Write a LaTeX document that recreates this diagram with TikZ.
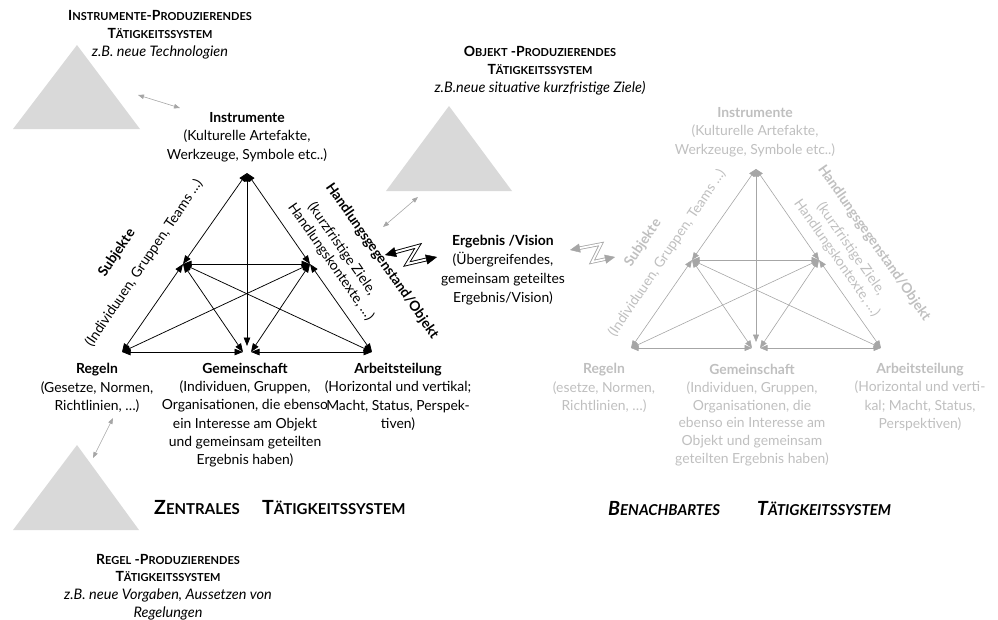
\documentclass[tikz,border=0pt]{standalone}
\usepackage{fontspec}
\setmainfont{Lato}
\usetikzlibrary{arrows.meta,calc}
\definecolor{trifill}{HTML}{D9D9D9}
\definecolor{gline}{HTML}{A6A6A6}
\definecolor{gtext}{HTML}{BFBFBF}
\newcommand\SCa[2]{{\fontsize{14}{18}\selectfont #1}{\fontsize{11}{18}\selectfont #2}}
\newcommand\SCb[2]{{\fontsize{19.5}{22}\selectfont #1}{\fontsize{15}{22}\selectfont #2}}
\newcommand\itl[1]{{\mdseries\itshape\fontsize{14.5}{18}\selectfont #1}}
\begin{document}
\begin{tikzpicture}[x=1pt,y=-1pt,
  lab/.style={font=\fontsize{13.9}{18.5}\selectfont, align=center, inner sep=0pt},
  glab/.style={lab, text=gtext},
  head/.style={font=\fontsize{14}{18}\selectfont\bfseries, align=center, inner sep=0pt},
  dbl/.style={<->, >={Triangle[length=8.5pt,width=6.5pt]}, line width=0.75pt},
  gdbl/.style={<->, >={Triangle[length=7.5pt,width=6pt]}, line width=0.6pt, draw=gline},
  thin/.style={<->, >={Triangle[length=6pt,width=4.5pt]}, line width=0.6pt, draw=gline},
  systri/.style={fill=trifill, draw=none}]
\useasboundingbox (0,0) rectangle (998,619);

% ---------- gray triangles of neighbouring systems ----------
\fill[systri] (77,45) -- (13,129) -- (140,129) -- cycle;
\fill[systri] (449,106) -- (386,191) -- (512,191) -- cycle;
\fill[systri] (77,445) -- (13,530) -- (139,530) -- cycle;

\node[head] (hInstr) at (160,35) {\SCa{I}{NSTRUMENTE}-\SCa{P}{RODUZIERENDES}\\\SCa{T}{ÄTIGKEITSSYSTEM}\\\itl{z.B. neue Technologien}};
\node[head] (hObj) at (540,71) {\SCa{O}{BJEKT} -\SCa{P}{RODUZIERENDES}\\\SCa{T}{ÄTIGKEITSSYSTEM}\\\itl{z.B.neue situative kurzfristige Ziele)}};
\node[head, font=\fontsize{14}{17.7}\selectfont\bfseries] (hReg) at (168,587) {\SCa{R}{EGEL} -\SCa{P}{RODUZIERENDES}\\\SCa{T}{ÄTIGKEITSSYSTEM}\\\itl{z.B. neue Vorgaben, Aussetzen von}\\\itl{Regelungen}};

\coordinate (ga1) at (138,95);  \coordinate (ga2) at (180,108);
\coordinate (gb1) at (383,227); \coordinate (gb2) at (418,197);
\coordinate (gc1) at (93,458);  \coordinate (gc2) at (113,418);
\draw[thin] (ga1) -- (ga2);
\draw[thin] (gb1) -- (gb2);
\draw[thin] (gc1) -- (gc2);

% ---------- central system ----------
\coordinate (I) at (247,173);
\coordinate (S) at (183,264);
\coordinate (O) at (310,264);
\coordinate (R) at (122,352);
\coordinate (Gl) at (243,352);
\coordinate (Gr) at (251,352);
\coordinate (Gt) at (247,346);
\coordinate (A) at (372,352);
\foreach \a/\b in {I/S, I/O, I/Gt, S/O, S/R, S/Gl, S/A, O/R, O/Gr, O/A, R/Gl, Gr/A}
  \draw[dbl] (\a) -- (\b);

\node[lab] (instrL) at (247,137) {\textbf{Instrumente}\\(Kulturelle Artefakte,\\Werkzeuge, Symbole etc..)};
\node[lab] (regL) at (97,388) {\textbf{Regeln}\\(Gesetze, Normen,\\Richtlinien, …)};
\node[lab, font=\fontsize{13.9}{18.2}\selectfont] (gemL) at (245,415) {\textbf{Gemeinschaft}\\(Individuen, Gruppen,\\Organisationen, die ebenso\\ein Interesse am Objekt\\und gemeinsam geteilten\\Ergebnis haben)};
\node[lab] (arbL) at (398,397) {\textbf{Arbeitsteilung}\\(Horizontal und vertikal;\\Macht, Status, Perspek-\\tiven)};
\node[lab, font=\fontsize{13.9}{19}\selectfont] (ergL) at (503,270) {\textbf{Ergebnis /Vision}\\(Übergreifendes,\\gemeinsam geteiltes\\Ergebnis/Vision)};
\node[lab, rotate=56, font=\fontsize{13.9}{16}\selectfont\bfseries] (subjL) at (117,253) {Subjekte};
\node[lab, rotate=56] (subjP) at (144,263) {(Individuuen, Gruppen, Teams …)};
\node[lab, rotate=-55, font=\fontsize{13.9}{16}\selectfont\bfseries] (hgL) at (382,261) {Handlungsgegenstand/Objekt};
\node[lab, rotate=-55] (hgP1) at (342,249) {(kurzfristige Ziele,};
\node[lab, rotate=-55] (hgP2) at (331,262) {Handlungskontexte, …)};

\node[inner sep=0pt, anchor=west, font=\bfseries] (zt1) at (154,507) {\SCb{Z}{ENTRALES}};
\node[inner sep=0pt, anchor=west, font=\bfseries] (zt2) at (262,507) {\SCb{T}{ÄTIGKEITSSYSTEM}};

% ---------- lightning arrows ----------
\coordinate (L1) at (385,255); \coordinate (L2) at (418,246);
\coordinate (L3) at (407,264); \coordinate (L4) at (437,257);
\draw[line width=0.9pt, double=white, double distance=2pt, line join=miter, shorten <=10pt, shorten >=10pt] (L1) -- (L2) -- (L3) -- (L4);
\draw[-{Triangle[length=11pt,width=10pt]}, line width=0.4pt] ($(L1)!11pt!(L2)$) -- (L1);
\draw[-{Triangle[length=11pt,width=10pt]}, line width=0.4pt] ($(L4)!11pt!(L3)$) -- (L4);

\coordinate (M1) at (570,250); \coordinate (M2) at (601,244);
\coordinate (M3) at (592,262); \coordinate (M4) at (615,257);
\draw[gline, line width=0.8pt, double=white, double distance=1.8pt, line join=miter, shorten <=9pt, shorten >=9pt] (M1) -- (M2) -- (M3) -- (M4);
\draw[gline, -{Triangle[length=10pt,width=9pt]}, line width=0.4pt] ($(M1)!10pt!(M2)$) -- (M1);
\draw[gline, -{Triangle[length=10pt,width=9pt]}, line width=0.4pt] ($(M4)!10pt!(M3)$) -- (M4);

% ---------- neighbouring (gray) system ----------
\begin{scope}[shift={(509,-4)}]
\coordinate (I2) at (247,173);
\coordinate (S2) at (183,264);
\coordinate (O2) at (310,264);
\coordinate (R2) at (122,352);
\coordinate (Gl2) at (243,352);
\coordinate (Gr2) at (251,352);
\coordinate (Gt2) at (247,346);
\coordinate (A2) at (372,352);
\end{scope}
\foreach \a/\b in {I2/S2, I2/O2, I2/Gt2, S2/O2, S2/R2, S2/Gl2, S2/A2, O2/R2, O2/Gr2, O2/A2, R2/Gl2, Gr2/A2}
  \draw[gdbl] (\a) -- (\b);

\node[glab] (instrR) at (755,132) {\textbf{Instrumente}\\(Kulturelle Artefakte,\\Werkzeuge, Symbole etc..)};
\node[glab] (regR) at (604,388) {\textbf{Regeln}\\(esetze, Normen,\\Richtlinien, …)};
\node[glab, font=\fontsize{13.9}{17.8}\selectfont] (gemR) at (752,415) {\textbf{Gemeinschaft}\\(Individuen, Gruppen,\\Organisationen, die\\ebenso ein Interesse am\\Objekt und gemeinsam\\geteilten Ergebnis haben)};
\node[glab] (arbR) at (920,397) {\textbf{Arbeitsteilung}\\(Horizontal und verti-\\kal; Macht, Status,\\Perspektiven)};
\node[glab, rotate=56, font=\fontsize{13.9}{16}\selectfont\bfseries] (subjR) at (643,243) {Subjekte};
\node[glab, rotate=56] (subjPR) at (667,253) {(Individuuen, Gruppen, Teams …)};
\node[glab, rotate=-55, font=\fontsize{13.9}{16}\selectfont\bfseries] (hgR) at (874,243) {Handlungsgegenstand/Objekt};
\node[glab, rotate=-55] (hgPR1) at (851,249) {(kurzfristige Ziele,};
\node[glab, rotate=-55] (hgPR2) at (837,258) {Handlungskontexte, …)};

\node[inner sep=0pt, anchor=west, font=\bfseries\itshape] (bt1) at (608,509) {\SCb{B}{ENACHBARTES}};
\node[inner sep=0pt, anchor=west, font=\bfseries\itshape] (bt2) at (757,509) {\SCb{T}{ÄTIGKEITSSYSTEM}};
\end{tikzpicture}
\end{document}
